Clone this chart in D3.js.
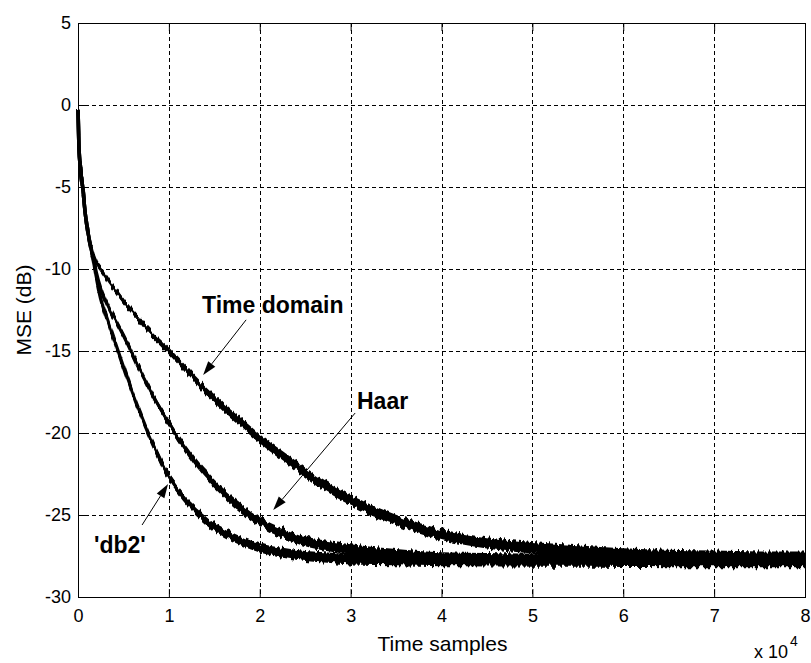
<!DOCTYPE html>
<html>
<head>
<meta charset="utf-8">
<script src="https://cdn.jsdelivr.net/npm/d3@7"></script>
<style>
  body { margin: 0; background: #fff; }
  svg { display: block; font-family: "Liberation Sans", Arial, sans-serif; }
</style>
</head>
<body>
<div id="chart"></div>
<script>
const samples = [0, 0.01, 0.03, 0.055, 0.08, 0.11, 0.14, 0.17, 0.2, 0.25, 0.3, 0.36, 0.44, 0.55,
  0.65, 0.75, 0.87, 1.0, 1.1, 1.2, 1.35, 1.5, 1.65, 1.8, 2.0, 2.25, 2.5, 2.75, 3.0, 3.5,
  4.0, 4.5, 5.0, 5.5, 6.0, 6.5, 7.0, 7.5, 8.0];

// MSE (dB) for each adaptation domain
const timeDomain = [-0.3, -2.5, -4.0, -5.2, -6.6, -7.8, -8.6, -9.2, -9.6, -10.0, -10.4, -10.9, -11.5, -12.3,
  -12.9, -13.6, -14.3, -15.0, -15.6, -16.2, -17.1, -17.9, -18.7, -19.4, -20.35, -21.4, -22.4, -23.3, -24.1, -25.3,
  -26.2, -26.7, -27.0, -27.2, -27.4, -27.5, -27.55, -27.6, -27.6];
const haar = [-0.3, -2.5, -4.0, -5.2, -6.6, -7.8, -8.7, -9.4, -10.2, -11.2, -11.9, -12.6, -13.4, -14.6,
  -15.8, -16.9, -18.2, -19.4, -20.3, -21.1, -22.2, -23.1, -23.9, -24.6, -25.4, -26.1, -26.6, -26.9, -27.1, -27.4,
  -27.6, -27.65, -27.7, -27.7, -27.7, -27.72, -27.75, -27.75, -27.75];
const db2 = [-0.3, -2.5, -4.0, -5.2, -6.6, -7.8, -8.7, -9.5, -10.5, -11.8, -12.7, -13.7, -15.0, -16.8,
  -18.3, -19.7, -21.2, -22.7, -23.5, -24.2, -25.0, -25.7, -26.2, -26.6, -27.0, -27.3, -27.5, -27.6, -27.7, -27.75,
  -27.8, -27.8, -27.8, -27.8, -27.8, -27.8, -27.8, -27.8, -27.8];
// half width of the noisy band around each curve (dB)
const spread = [0, 0, 0, 0, 0, 0.05, 0.06, 0.08, 0.1, 0.12, 0.12, 0.14, 0.15, 0.16,
  0.18, 0.18, 0.2, 0.22, 0.22, 0.24, 0.25, 0.26, 0.27, 0.28, 0.28, 0.3, 0.3, 0.31, 0.32, 0.32,
  0.33, 0.34, 0.35, 0.36, 0.37, 0.38, 0.38, 0.38, 0.38];

const xTicks = [0, 1, 2, 3, 4, 5, 6, 7, 8];
const yTicks = [-30, -25, -20, -15, -10, -5, 0, 5];

const series = [timeDomain, haar, db2];

const width = 811, height = 663;
const plot = { left: 78, right: 805, top: 23, bottom: 597 };

const svg = d3.select("#chart").append("svg")
    .attr("width", width)
    .attr("height", height);

svg.append("rect").attr("width", width).attr("height", height).attr("fill", "#fff");

// jitter filter: shifts the curves up/down only, gives them the noisy look
const defs = svg.append("defs");
const jitter = defs.append("filter")
    .attr("id", "jitter")
    .attr("filterUnits", "userSpaceOnUse")
    .attr("x", 0).attr("y", 0).attr("width", width).attr("height", height);
jitter.append("feTurbulence")
    .attr("type", "fractalNoise")
    .attr("baseFrequency", "0.45 0.02")
    .attr("numOctaves", 1)
    .attr("seed", 3)
    .attr("result", "noise");
const ct = jitter.append("feComponentTransfer").attr("in", "noise").attr("result", "map");
ct.append("feFuncR").attr("type", "linear").attr("slope", 0).attr("intercept", 0.5);
ct.append("feFuncG").attr("type", "linear").attr("slope", 1.6).attr("intercept", -0.3);
jitter.append("feDisplacementMap")
    .attr("in", "SourceGraphic")
    .attr("in2", "map")
    .attr("scale", 6)
    .attr("xChannelSelector", "R")
    .attr("yChannelSelector", "G");

const x = d3.scaleLinear().domain([0, 8]).range([plot.left, plot.right]);
const y = d3.scaleLinear().domain([-30, 5]).range([plot.bottom, plot.top]);

// grid
const grid = svg.append("g")
    .attr("stroke", "#000")
    .attr("stroke-width", 1)
    .attr("stroke-dasharray", "4,3")
    .attr("shape-rendering", "crispEdges");

grid.selectAll(".vgrid")
    .data(xTicks.slice(1, -1))
    .enter().append("line")
    .attr("x1", d => Math.round(x(d)) + 0.5)
    .attr("x2", d => Math.round(x(d)) + 0.5)
    .attr("y1", plot.top)
    .attr("y2", plot.bottom);

grid.selectAll(".hgrid")
    .data(yTicks.slice(1, -1))
    .enter().append("line")
    .attr("y1", d => Math.round(y(d)) + 0.5)
    .attr("y2", d => Math.round(y(d)) + 0.5)
    .attr("x1", plot.left)
    .attr("x2", plot.right);

// curves
const band = d3.area()
    .x((d, i) => x(samples[i]))
    .y0((d, i) => y(d - spread[i]))
    .y1((d, i) => y(d + spread[i]))
    .curve(d3.curveMonotoneX);

const line = d3.line()
    .x((d, i) => x(samples[i]))
    .y(d => y(d))
    .curve(d3.curveMonotoneX);

const curves = svg.append("g").attr("filter", "url(#jitter)");
series.forEach(s => {
    curves.append("path")
        .attr("d", band(s))
        .attr("fill", "#000");
    curves.append("path")
        .attr("d", line(s))
        .attr("fill", "none")
        .attr("stroke", "#000")
        .attr("stroke-width", 3.6);
});

// axes (inward ticks on all four sides)
const fmt = d => String(d);
const tickLen = 8;

const xAxis = svg.append("g")
    .attr("transform", `translate(0,${plot.bottom})`)
    .call(d3.axisBottom(x).tickValues(xTicks).tickFormat(fmt).tickSizeInner(-tickLen).tickSizeOuter(0).tickPadding(12));
const yAxis = svg.append("g")
    .attr("transform", `translate(${plot.left},0)`)
    .call(d3.axisLeft(y).tickValues(yTicks).tickFormat(fmt).tickSizeInner(-tickLen).tickSizeOuter(0).tickPadding(7));
const xTop = svg.append("g")
    .attr("transform", `translate(0,${plot.top})`)
    .call(d3.axisTop(x).tickValues(xTicks).tickFormat("").tickSizeInner(-tickLen).tickSizeOuter(0));
const yRight = svg.append("g")
    .attr("transform", `translate(${plot.right},0)`)
    .call(d3.axisRight(y).tickValues(yTicks).tickFormat("").tickSizeInner(-tickLen).tickSizeOuter(0));

[xAxis, yAxis, xTop, yRight].forEach(a => {
    a.select(".domain").remove();
    a.selectAll("line").attr("stroke", "#000");
    a.selectAll("text")
        .attr("fill", "#000")
        .style("font-size", "18px")
        .style("font-family", "'Liberation Sans', Arial, sans-serif");
});

// box
svg.append("rect")
    .attr("x", plot.left + 0.5)
    .attr("y", plot.top + 0.5)
    .attr("width", plot.right - plot.left)
    .attr("height", plot.bottom - plot.top)
    .attr("fill", "none")
    .attr("stroke", "#000")
    .attr("stroke-width", 1);

// axis labels
svg.append("text")
    .attr("x", (plot.left + plot.right) / 2 + 1)
    .attr("y", 651)
    .attr("text-anchor", "middle")
    .style("font-size", "21px")
    .text("Time samples");

svg.append("text")
    .attr("transform", `translate(31,${(plot.top + plot.bottom) / 2}) rotate(-90)`)
    .attr("text-anchor", "middle")
    .style("font-size", "21px")
    .text("MSE (dB)");

const expo = svg.append("text")
    .attr("x", 754)
    .attr("y", 658)
    .style("font-size", "18px");
expo.append("tspan").text("x 10");
expo.append("tspan").attr("dx", 2).attr("dy", -12).style("font-size", "14px").text("4");

// annotations (data coordinates)
const notes = [
    { text: "Time domain", tx: 1.365, ty: -12.68, from: [1.85, -13.1], to: [1.377, -16.46] },
    { text: "Haar", tx: 3.07, ty: -18.54, from: [3.05, -18.78], to: [2.148, -24.7] },
    { text: "'db2'", tx: 0.176, ty: -27.32, from: [0.705, -25.61], to: [0.991, -23.11] }
];

const ann = svg.append("g");
notes.forEach(n => {
    ann.append("text")
        .attr("x", x(n.tx))
        .attr("y", y(n.ty))
        .style("font-size", "23px")
        .style("font-weight", "bold")
        .text(n.text);

    const x0 = x(n.from[0]), y0 = y(n.from[1]);
    const x1 = x(n.to[0]), y1 = y(n.to[1]);
    const ang = Math.atan2(y1 - y0, x1 - x0);
    const headLen = 14, headW = 4.5;
    const bx = x1 - headLen * Math.cos(ang), by = y1 - headLen * Math.sin(ang);

    ann.append("line")
        .attr("x1", x0).attr("y1", y0)
        .attr("x2", bx).attr("y2", by)
        .attr("stroke", "#000")
        .attr("stroke-width", 1);

    ann.append("path")
        .attr("d", `M${x1},${y1}L${bx - headW * Math.sin(ang)},${by + headW * Math.cos(ang)}L${bx + headW * Math.sin(ang)},${by - headW * Math.cos(ang)}Z`)
        .attr("fill", "#000");
});
</script>
</body>
</html>
